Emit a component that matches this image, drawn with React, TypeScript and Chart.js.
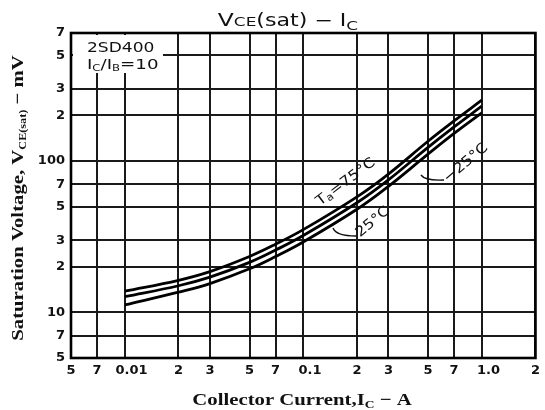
import React, { useEffect, useRef } from "react";
import { Chart, registerables } from "chart.js";
Chart.register(...registerables);

// Collector current (A)
const currents = [0.01, 0.02, 0.03, 0.05, 0.07, 0.1, 0.2, 0.3, 0.5, 0.7, 1.0];
// Saturation voltage (mV)
const vTa75 = [13.8, 16.3, 18.6, 23.4, 28.2, 35.2, 58, 82, 135, 184, 252];
const vTa25 = [12.7, 15.0, 17.1, 21.4, 25.8, 32.2, 53, 75, 123, 168, 230];
const vTaM25 = [11.2, 13.6, 15.5, 19.4, 23.4, 29.2, 48, 68, 111, 152, 208];

const seriesNames = ["Ta=75°C", "25°C", "−25°C"];

const xTickValues = [0.005, 0.007, 0.01, 0.02, 0.03, 0.05, 0.07, 0.1, 0.2, 0.3, 0.5, 0.7, 1, 2];
const xTickLabels = ["5", "7", "   0.01", "2", "3", "5", "7", "   0.1", "2", "3", "5", "7", "   1.0", "2"];
const yTickValues = [5, 7, 10, 20, 30, 50, 70, 100, 200, 300, 500, 700];
const yTickLabels = ["5", "7", "10", "2", "3", "5", "7", "100", "2", "3", "5", "7"];

type Part = { t: string; font: string; dy?: number };

function drawParts(
  ctx: CanvasRenderingContext2D,
  parts: Part[],
  x: number,
  y: number,
  align: "left" | "center",
  sx = 1
) {
  let total = 0;
  for (const p of parts) {
    ctx.font = p.font;
    total += ctx.measureText(p.t).width;
  }
  ctx.save();
  ctx.translate(x, y);
  ctx.scale(sx, 1);
  let cx = align === "center" ? -total / 2 : 0;
  ctx.textAlign = "left";
  ctx.textBaseline = "alphabetic";
  for (const p of parts) {
    ctx.font = p.font;
    ctx.fillText(p.t, cx, p.dy || 0);
    cx += ctx.measureText(p.t).width;
  }
  ctx.restore();
}

const SANS = '"DejaVu Sans", sans-serif';
const SERIF = '"Liberation Serif", serif';

const decoPlugin = {
  id: "deco",
  afterDraw(chart: any) {
    const ctx: CanvasRenderingContext2D = chart.ctx;
    const { left, right, top, bottom } = chart.chartArea;
    ctx.save();
    // annotation box (covers grid)
    ctx.fillStyle = "#fff";
    ctx.fillRect(left + 2, top + 2, 90, 38);
    // frame
    ctx.strokeStyle = "#000";
    ctx.lineWidth = 2.6;
    ctx.strokeRect(left, top, right - left, bottom - top);

    ctx.fillStyle = "#111";
    // device text
    drawParts(ctx, [{ t: "2SD400", font: `14px ${SANS}` }], left + 16, top + 19, "left", 1.22);
    drawParts(
      ctx,
      [
        { t: "I", font: `14px ${SANS}` },
        { t: "C", font: `9px ${SANS}`, dy: 2 },
        { t: "/I", font: `14px ${SANS}` },
        { t: "B", font: `9px ${SANS}`, dy: 2 },
        { t: "=10", font: `14px ${SANS}` },
      ],
      left + 16,
      top + 36,
      "left",
      1.3
    );

    // title
    drawParts(
      ctx,
      [
        { t: "V", font: `18px ${SANS}` },
        { t: "CE", font: `13px ${SANS}` },
        { t: "(sat) − I", font: `17px ${SANS}` },
        { t: "C", font: `13px ${SANS}`, dy: 4 },
      ],
      288,
      26,
      "center",
      1.3
    );

    // x axis title
    drawParts(
      ctx,
      [
        { t: "Collector Current,I", font: `bold 17px ${SERIF}` },
        { t: "C", font: `bold 11px ${SERIF}`, dy: 3 },
        { t: " − A", font: `bold 17px ${SERIF}` },
      ],
      302,
      405,
      "center",
      1.22
    );

    // y axis title
    ctx.save();
    ctx.translate(23, 198);
    ctx.rotate(-Math.PI / 2);
    drawParts(
      ctx,
      [
        { t: "Saturation Voltage, V", font: `bold 17px ${SERIF}` },
        { t: "CE(sat)", font: `bold 10px ${SERIF}`, dy: 3 },
        { t: " − mV", font: `bold 17px ${SERIF}` },
      ],
      0,
      0,
      "center",
      1.22
    );
    ctx.restore();

    // curve labels
    const rotLabel = (parts: Part[], x: number, y: number, ang: number) => {
      ctx.save();
      ctx.translate(x, y);
      ctx.rotate((ang * Math.PI) / 180);
      drawParts(ctx, parts, 0, 5, "center", 1.15);
      ctx.restore();
    };
    rotLabel(
      [
        { t: "T", font: `14px ${SANS}` },
        { t: "a", font: `10px ${SANS}`, dy: 2 },
        { t: "=75°C", font: `14px ${SANS}` },
      ],
      345,
      181,
      -37
    );
    rotLabel([{ t: seriesNames[1], font: `14px ${SANS}` }], 372, 221, -40);
    rotLabel([{ t: seriesNames[2], font: `14px ${SANS}` }], 465, 162, -40);

    // callout hooks
    ctx.strokeStyle = "#111";
    ctx.lineWidth = 1.4;
    ctx.beginPath();
    ctx.moveTo(333, 228);
    ctx.quadraticCurveTo(336, 236, 356, 236);
    ctx.moveTo(421, 175);
    ctx.quadraticCurveTo(425, 181, 444, 180);
    ctx.stroke();
    ctx.restore();
  },
};

export default function App() {
  const ref = useRef<HTMLCanvasElement>(null);
  useEffect(() => {
    const ctx = ref.current!.getContext("2d")!;
    const mk = (label: string, ys: number[]) => ({
      label,
      data: currents.map((x, i) => ({ x, y: ys[i] })),
      borderColor: "#000",
      borderWidth: 2.8,
      pointRadius: 0,
      fill: false,
      tension: 0.4,
    });
    const tickFont = { family: "DejaVu Sans", size: 13, weight: "bold" as const };
    const chart = new Chart(ctx, {
      type: "line",
      data: {
        datasets: [mk(seriesNames[0], vTa75), mk(seriesNames[1], vTa25), mk(seriesNames[2], vTaM25)],
      },
      options: {
        animation: false,
        responsive: false,
        devicePixelRatio: 1,
        layout: { padding: { left: 0, top: 33, right: 2, bottom: 0 } },
        plugins: { legend: { display: false }, tooltip: { enabled: false }, title: { display: false } },
        scales: {
          x: {
            type: "logarithmic",
            min: 0.005,
            max: 2,
            afterBuildTicks: (s: any) => {
              s.ticks = xTickValues.map((v) => ({ value: v }));
            },
            afterFit: (s: any) => {
              s.height = 52;
            },
            ticks: {
              autoSkip: false,
              maxRotation: 0,
              minRotation: 0,
              padding: 5,
              color: "#111",
              font: tickFont,
              callback: (_v: any, i: number) => xTickLabels[i],
            },
            grid: { color: "#1a1a1a", lineWidth: 2, drawTicks: false },
            border: { display: false },
          },
          y: {
            type: "logarithmic",
            min: 5,
            max: 700,
            afterBuildTicks: (s: any) => {
              s.ticks = yTickValues.map((v) => ({ value: v }));
            },
            afterFit: (s: any) => {
              s.width = 71;
            },
            ticks: {
              autoSkip: false,
              padding: 6,
              color: "#111",
              font: tickFont,
              callback: (_v: any, i: number) => yTickLabels[i],
            },
            grid: { color: "#1a1a1a", lineWidth: 2, drawTicks: false },
            border: { display: false },
          },
        },
      },
      plugins: [decoPlugin],
    } as any);
    return () => chart.destroy();
  }, []);
  return (
    <div style={{ position: "absolute", left: 0, top: 0, width: 545, height: 410, background: "#fff" }}>
      <canvas ref={ref} width={545} height={410} style={{ display: "block" }} />
    </div>
  );
}
